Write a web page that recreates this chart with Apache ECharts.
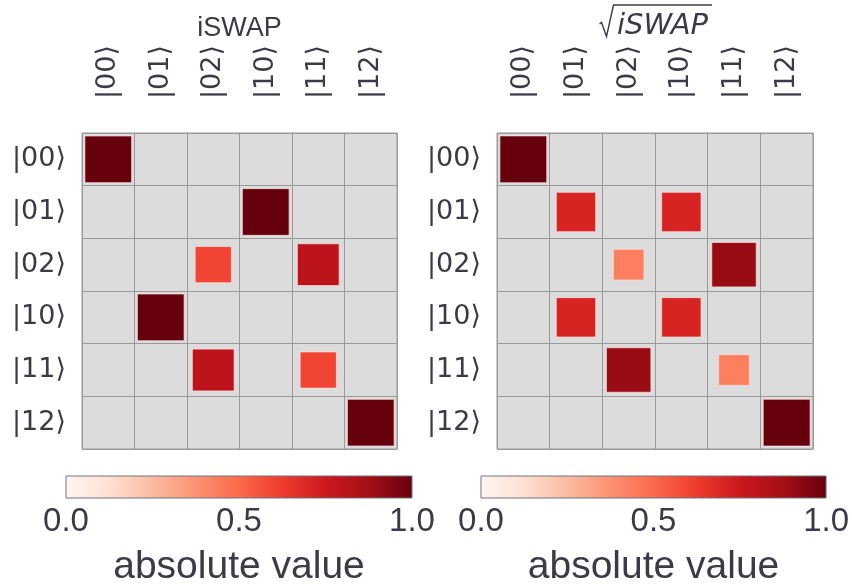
<!DOCTYPE html>
<html>
<head>
<meta charset="utf-8">
<title>iSWAP and sqrt(iSWAP) gate magnitudes</title>
<script src="https://cdn.jsdelivr.net/npm/echarts@6/dist/echarts.min.js"></script>
<style>
  html, body { margin: 0; padding: 0; background: #ffffff; }
  #chart { width: 852px; height: 588px; }
</style>
</head>
<body>
<div id="chart"></div>
<script>
// Basis states of the qubit-qutrit register
const states = ['|00⟩', '|01⟩', '|02⟩', '|10⟩', '|11⟩', '|12⟩'];

// |U_ij| for the iSWAP gate (rows: output state, columns: input state)
const iswapAbs = [
  [1.0, 0,   0,   0,   0,   0],
  [0,   0,   0,   1.0, 0,   0],
  [0,   0,   0.6, 0,   0.8, 0],
  [0,   1.0, 0,   0,   0,   0],
  [0,   0,   0.8, 0,   0.6, 0],
  [0,   0,   0,   0,   0,   1.0]
];

// |U_ij| for the square-root-of-iSWAP gate
const sqrtIswapAbs = [
  [1.0, 0,     0,    0,     0,    0],
  [0,   0.707, 0,    0.707, 0,    0],
  [0,   0,     0.43, 0,     0.9,  0],
  [0,   0.707, 0,    0.707, 0,    0],
  [0,   0,     0.9,  0,     0.43, 0],
  [0,   0,     0,    0,     0,    1.0]
];

// Colour bar range and ticks
const colorbarRange = [0, 1];
const colorbarTicks = [0.0, 0.5, 1.0];

// Matplotlib "Reds" colour map
const reds = ['#fff5f0', '#fee0d2', '#fcbba1', '#fc9272', '#fb6a4a',
              '#ef3b2c', '#cb181d', '#a50f15', '#67000d'];

const textColor = '#3b3b47';
const ketFont = "'DejaVu Sans', sans-serif";
const sansFont = "'Liberation Sans', Arial, sans-serif";

function toTriples(matrix) {
  const out = [];
  matrix.forEach((row, r) => row.forEach((v, c) => out.push([c, r, v])));
  return out;
}

// One square per matrix entry; its area is proportional to the magnitude
function renderSquare(params, api) {
  const v = api.value(2);
  if (!v) return null;
  const c = api.coord([api.value(0), api.value(1)]);
  const cell = api.size([1, 1]);
  const side = cell[0] * 0.89 * Math.sqrt(v);
  return {
    type: 'rect',
    shape: { x: c[0] - side / 2, y: c[1] - side / 2, width: side, height: side },
    style: { fill: api.visual('color'), stroke: 'rgba(255,225,225,0.7)', lineWidth: 1 }
  };
}

// Colour bar drawn as a gradient rectangle over its own value axis
function renderColorbar(params, api) {
  const p0 = api.coord([colorbarRange[0], 0]);
  const p1 = api.coord([colorbarRange[1], 1]);
  const stops = reds.map((col, i) => ({ offset: i / (reds.length - 1), color: col }));
  return {
    type: 'rect',
    shape: { x: p0[0], y: p1[1], width: p1[0] - p0[0], height: p0[1] - p1[1] },
    style: {
      fill: new echarts.graphic.LinearGradient(0, 0, 1, 0, stops),
      stroke: '#6d7585', lineWidth: 1
    }
  };
}

const matrixGrids = [
  { left: 82, top: 133, width: 315, height: 316 },
  { left: 497, top: 133, width: 316, height: 316 }
];
const barGrids = [
  { left: 66, top: 476, width: 346, height: 22 },
  { left: 481, top: 476, width: 349, height: 22 }
];

const grids = [];
const xAxes = [];
const yAxes = [];

matrixGrids.forEach((g) => {
  grids.push(Object.assign({
    show: true, backgroundColor: '#dcdcdc', borderColor: '#9a9a9a', borderWidth: 1
  }, g));
  const gi = grids.length - 1;
  xAxes.push({
    gridIndex: gi, type: 'category', data: states, position: 'top',
    axisLine: { show: false }, axisTick: { show: false },
    splitLine: { show: true, interval: 0, lineStyle: { color: '#9a9a9a', width: 1 } },
    axisLabel: { rotate: -90, margin: 34, interval: 0, fontSize: 27, color: textColor, fontFamily: ketFont }
  });
  yAxes.push({
    gridIndex: gi, type: 'category', data: states, inverse: true,
    axisLine: { show: false }, axisTick: { show: false },
    splitLine: { show: true, interval: 0, lineStyle: { color: '#9a9a9a', width: 1 } },
    axisLabel: { margin: 16, interval: 0, fontSize: 27, color: textColor, fontFamily: ketFont }
  });
});

barGrids.forEach((g) => {
  grids.push(Object.assign({ show: false }, g));
  const gi = grids.length - 1;
  xAxes.push({
    gridIndex: gi, type: 'value', min: colorbarRange[0], max: colorbarRange[1],
    interval: colorbarTicks[1] - colorbarTicks[0],
    axisLine: { show: false }, axisTick: { show: false }, splitLine: { show: false },
    axisLabel: {
      margin: 7, fontSize: 33, color: textColor, fontFamily: sansFont,
      formatter: (v) => v.toFixed(1)
    },
    name: 'absolute value', nameLocation: 'middle', nameGap: 50,
    nameTextStyle: { fontSize: 39, color: textColor, fontFamily: sansFont }
  });
  yAxes.push({
    gridIndex: gi, type: 'value', min: 0, max: 1, show: false
  });
});

const chart = echarts.init(document.getElementById('chart'), null, { renderer: 'canvas' });

chart.setOption({
  backgroundColor: '#ffffff',
  animation: false,
  grid: grids,
  xAxis: xAxes,
  yAxis: yAxes,
  visualMap: {
    show: false, type: 'continuous', min: colorbarRange[0], max: colorbarRange[1],
    dimension: 2, seriesIndex: [0, 1], inRange: { color: reds }
  },
  graphic: [
    {
      type: 'text', x: 239.5, y: 29,
      style: { text: 'iSWAP', font: "27px 'Liberation Sans', Arial, sans-serif",
               fill: textColor, textAlign: 'center', textVerticalAlign: 'middle' }
    },
    {
      type: 'polyline',
      shape: { points: [[599.5, 24], [601.5, 22.5], [606.5, 36.5], [613.5, 5], [712, 5]] },
      style: { stroke: textColor, lineWidth: 1.4, fill: null }
    },
    {
      type: 'text', x: 617, y: 26,
      style: { text: 'iSWAP', font: "italic 29px 'DejaVu Sans', sans-serif",
               fill: textColor, textAlign: 'left', textVerticalAlign: 'middle' }
    }
  ],
  series: [
    { type: 'custom', xAxisIndex: 0, yAxisIndex: 0, renderItem: renderSquare,
      data: toTriples(iswapAbs), encode: { x: 0, y: 1 } },
    { type: 'custom', xAxisIndex: 1, yAxisIndex: 1, renderItem: renderSquare,
      data: toTriples(sqrtIswapAbs), encode: { x: 0, y: 1 } },
    { type: 'custom', xAxisIndex: 2, yAxisIndex: 2, renderItem: renderColorbar,
      data: [[0, 0]], silent: true },
    { type: 'custom', xAxisIndex: 3, yAxisIndex: 3, renderItem: renderColorbar,
      data: [[0, 0]], silent: true }
  ]
});
</script>
</body>
</html>
